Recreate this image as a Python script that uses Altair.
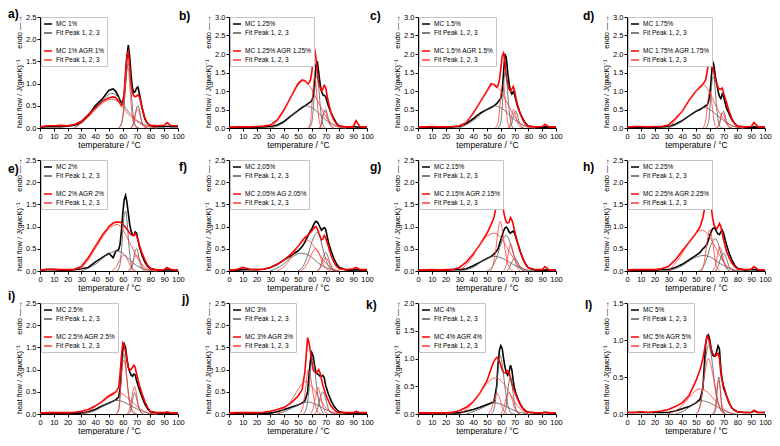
import altair as alt
import pandas as pd

# ---------------- data ----------------
T = [0, 5, 10, 15, 20, 25, 30, 35, 40, 45,
     50, 53, 55, 57, 58, 59, 60, 61, 62, 63,
     64, 65, 66, 67, 68, 69, 70, 71, 72, 74,
     76, 78, 80, 85, 90, 92, 95, 100]

MC_A = [0.02, 0.03, 0.03, 0.03, 0.04, 0.06, 0.12, 0.28, 0.50, 0.65,
        0.85, 0.88, 0.82, 0.70, 0.62, 0.57, 0.58, 0.75, 1.10, 1.60,
        1.87, 1.60, 1.20, 0.90, 0.80, 0.82, 0.90, 0.92, 0.78, 0.45,
        0.20, 0.10, 0.05, 0.03, 0.03, 0.04, 0.03, 0.03]
AGR_A = [0.02, 0.05, 0.05, 0.06, 0.05, 0.08, 0.15, 0.30, 0.45, 0.60,
         0.68, 0.70, 0.68, 0.60, 0.55, 0.50, 0.55, 0.80, 1.30, 1.65,
         1.72, 1.40, 1.00, 0.80, 0.72, 0.70, 0.72, 0.75, 0.70, 0.45,
         0.22, 0.10, 0.06, 0.05, 0.06, 0.12, 0.05, 0.05]
MC_B = [0.02, 0.02, 0.02, 0.02, 0.02, 0.03, 0.04, 0.08, 0.18, 0.33,
        0.47, 0.55, 0.60, 0.65, 0.68, 0.70, 0.74, 0.85, 1.20, 1.70,
        1.80, 1.50, 1.20, 1.00, 0.90, 0.88, 0.85, 0.72, 0.60, 0.40,
        0.25, 0.12, 0.05, 0.02, 0.04, 0.03, 0.02, 0.02]
AGR_B = [0.02, 0.03, 0.03, 0.03, 0.04, 0.05, 0.08, 0.22, 0.50, 0.85,
         1.20, 1.30, 1.28, 1.20, 1.22, 1.30, 1.50, 1.90, 2.15, 1.90,
         1.50, 1.20, 1.10, 1.00, 1.05, 1.15, 1.10, 0.90, 0.70, 0.40,
         0.22, 0.10, 0.05, 0.03, 0.03, 0.20, 0.03, 0.03]
MC_C = [0.02, 0.02, 0.02, 0.02, 0.02, 0.03, 0.04, 0.12, 0.25, 0.40,
        0.50, 0.55, 0.60, 0.66, 0.70, 0.75, 0.80, 1.00, 1.50, 2.00,
        1.90, 1.50, 1.20, 1.00, 0.92, 0.98, 0.90, 0.75, 0.60, 0.40,
        0.25, 0.12, 0.05, 0.02, 0.02, 0.03, 0.02, 0.02]
AGR_C = [0.02, 0.03, 0.04, 0.03, 0.03, 0.04, 0.06, 0.15, 0.40, 0.70,
         1.00, 1.20, 1.18, 1.10, 1.15, 1.30, 1.60, 1.95, 2.03, 1.80,
         1.40, 1.20, 1.05, 1.00, 1.05, 1.12, 1.00, 0.80, 0.65, 0.40,
         0.22, 0.10, 0.05, 0.03, 0.04, 0.10, 0.03, 0.03]
MC_D = [0.02, 0.02, 0.02, 0.02, 0.02, 0.03, 0.04, 0.10, 0.20, 0.33,
        0.45, 0.50, 0.55, 0.60, 0.62, 0.70, 0.90, 1.30, 1.80, 1.70,
        1.40, 1.20, 1.00, 0.85, 0.80, 0.92, 0.85, 0.70, 0.55, 0.38,
        0.22, 0.12, 0.05, 0.02, 0.02, 0.03, 0.02, 0.02]
AGR_D = [0.02, 0.04, 0.04, 0.03, 0.04, 0.04, 0.08, 0.25, 0.45, 0.75,
         1.00, 1.10, 1.18, 1.30, 1.50, 1.75, 2.00, 1.90, 1.70, 1.50,
         1.30, 1.20, 1.10, 1.05, 1.05, 1.08, 0.95, 0.82, 0.70, 0.45,
         0.25, 0.12, 0.05, 0.03, 0.04, 0.15, 0.03, 0.03]
MC_E = [0.02, 0.03, 0.03, 0.02, 0.02, 0.03, 0.05, 0.08, 0.20, 0.30,
        0.40, 0.30, 0.45, 0.48, 0.60, 0.90, 1.30, 1.60, 1.70, 1.55,
        1.30, 1.05, 0.90, 0.82, 0.80, 0.88, 0.85, 0.70, 0.55, 0.35,
        0.20, 0.10, 0.05, 0.02, 0.02, 0.03, 0.02, 0.02]
AGR_E = [0.02, 0.04, 0.04, 0.03, 0.03, 0.04, 0.10, 0.30, 0.55, 0.80,
         1.00, 1.08, 1.10, 1.10, 1.10, 1.08, 1.05, 1.02, 0.98, 0.94,
         0.90, 0.85, 0.82, 0.80, 0.82, 0.85, 0.80, 0.70, 0.58, 0.40,
         0.25, 0.13, 0.06, 0.02, 0.03, 0.08, 0.03, 0.02]
MC_F = [0.02, 0.02, 0.03, 0.03, 0.03, 0.04, 0.08, 0.15, 0.25, 0.35,
        0.45, 0.55, 0.65, 0.78, 0.85, 0.90, 0.95, 1.02, 1.08, 1.12,
        1.10, 1.05, 0.98, 0.92, 0.95, 0.98, 0.95, 0.80, 0.65, 0.45,
        0.28, 0.15, 0.08, 0.02, 0.02, 0.03, 0.02, 0.02]
AGR_F = [0.02, 0.03, 0.08, 0.04, 0.03, 0.04, 0.08, 0.15, 0.25, 0.38,
         0.55, 0.68, 0.75, 0.80, 0.83, 0.87, 0.90, 0.95, 0.98, 1.00,
         0.95, 0.86, 0.78, 0.70, 0.72, 0.80, 0.75, 0.65, 0.55, 0.35,
         0.20, 0.10, 0.05, 0.03, 0.05, 0.08, 0.03, 0.03]
MC_G = [0.02, 0.02, 0.02, 0.02, 0.02, 0.03, 0.03, 0.05, 0.12, 0.20,
        0.28, 0.33, 0.38, 0.45, 0.50, 0.60, 0.70, 0.80, 0.90, 0.97,
        0.99, 0.95, 0.88, 0.85, 0.88, 0.90, 0.85, 0.75, 0.65, 0.45,
        0.28, 0.15, 0.07, 0.02, 0.02, 0.02, 0.02, 0.02]
AGR_G = [0.02, 0.02, 0.03, 0.02, 0.03, 0.03, 0.08, 0.20, 0.38, 0.60,
         0.85, 1.05, 1.20, 1.50, 1.75, 1.90, 1.85, 1.60, 1.35, 1.20,
         1.10, 1.08, 1.10, 1.20, 1.15, 1.05, 0.90, 0.78, 0.65, 0.45,
         0.28, 0.15, 0.07, 0.03, 0.03, 0.10, 0.02, 0.02]
MC_H = [0.02, 0.02, 0.02, 0.02, 0.02, 0.03, 0.03, 0.08, 0.15, 0.25,
        0.35, 0.42, 0.50, 0.56, 0.60, 0.70, 0.80, 0.88, 0.95, 0.97,
        0.95, 0.88, 0.83, 0.82, 0.88, 0.92, 0.85, 0.72, 0.60, 0.40,
        0.25, 0.13, 0.06, 0.02, 0.03, 0.03, 0.02, 0.02]
AGR_H = [0.02, 0.03, 0.03, 0.03, 0.03, 0.05, 0.10, 0.25, 0.45, 0.65,
         0.85, 1.00, 1.20, 1.55, 1.72, 1.78, 1.70, 1.45, 1.20, 1.05,
         0.98, 0.95, 1.00, 1.07, 1.00, 0.85, 0.70, 0.58, 0.45, 0.30,
         0.18, 0.10, 0.05, 0.03, 0.04, 0.10, 0.03, 0.02]
MC_I = [0.02, 0.02, 0.02, 0.02, 0.02, 0.02, 0.02, 0.05, 0.10, 0.18,
        0.25, 0.29, 0.32, 0.38, 0.55, 1.00, 1.45, 1.58, 1.50, 1.25,
        1.05, 0.95, 0.88, 0.85, 0.90, 0.88, 0.75, 0.65, 0.55, 0.38,
        0.22, 0.12, 0.05, 0.02, 0.02, 0.02, 0.02, 0.02]
AGR_I = [0.02, 0.03, 0.03, 0.03, 0.03, 0.04, 0.06, 0.10, 0.18, 0.28,
         0.40, 0.45, 0.50, 0.60, 0.90, 1.30, 1.60, 1.55, 1.40, 1.20,
         1.05, 1.00, 1.00, 1.05, 1.10, 1.05, 0.90, 0.78, 0.65, 0.45,
         0.28, 0.15, 0.06, 0.03, 0.03, 0.05, 0.02, 0.02]
MC_J = [0.02, 0.02, 0.02, 0.02, 0.02, 0.02, 0.02, 0.05, 0.10, 0.15,
        0.20, 0.25, 0.30, 0.50, 0.90, 1.20, 1.38, 1.30, 1.10, 0.95,
        0.90, 0.88, 0.85, 0.85, 0.87, 0.82, 0.65, 0.55, 0.45, 0.30,
        0.18, 0.10, 0.05, 0.02, 0.02, 0.02, 0.02, 0.02]
AGR_J = [0.02, 0.03, 0.03, 0.03, 0.03, 0.04, 0.06, 0.10, 0.15, 0.25,
         0.40, 0.55, 0.95, 1.72, 1.60, 1.40, 1.20, 1.00, 0.95, 0.92,
         0.95, 1.00, 0.92, 0.78, 0.65, 0.55, 0.45, 0.37, 0.30, 0.18,
         0.10, 0.05, 0.03, 0.03, 0.03, 0.06, 0.03, 0.03]
MC_K = [0.02, 0.02, 0.02, 0.02, 0.02, 0.02, 0.02, 0.05, 0.08, 0.12,
        0.17, 0.20, 0.22, 0.50, 0.90, 1.15, 1.23, 1.18, 1.00, 0.85,
        0.75, 0.70, 0.75, 0.88, 0.80, 0.60, 0.45, 0.37, 0.30, 0.18,
        0.10, 0.05, 0.03, 0.02, 0.02, 0.03, 0.02, 0.02]
AGR_K = [0.02, 0.02, 0.02, 0.02, 0.02, 0.03, 0.06, 0.12, 0.22, 0.38,
         0.60, 0.82, 0.95, 1.02, 1.00, 0.95, 0.88, 0.80, 0.75, 0.74,
         0.76, 0.78, 0.75, 0.65, 0.55, 0.47, 0.40, 0.34, 0.28, 0.18,
         0.10, 0.06, 0.03, 0.02, 0.02, 0.03, 0.02, 0.02]
MC_L = [0.02, 0.02, 0.02, 0.02, 0.02, 0.02, 0.02, 0.04, 0.07, 0.10,
        0.15, 0.20, 0.35, 0.95, 1.05, 1.07, 1.00, 0.88, 0.80, 0.78,
        0.78, 0.85, 0.92, 0.88, 0.60, 0.45, 0.35, 0.30, 0.25, 0.15,
        0.08, 0.05, 0.03, 0.02, 0.02, 0.04, 0.02, 0.02]
AGR_L = [0.02, 0.02, 0.03, 0.02, 0.03, 0.04, 0.06, 0.10, 0.15, 0.25,
         0.45, 0.60, 0.75, 0.95, 1.05, 1.03, 0.95, 0.88, 0.82, 0.80,
         0.78, 0.80, 0.82, 0.75, 0.55, 0.45, 0.38, 0.32, 0.25, 0.15,
         0.08, 0.05, 0.03, 0.02, 0.02, 0.05, 0.02, 0.02]

# fitted peaks 1, 2, 3: (temperature, heat flow) points
FIT_MC_A = [[(25, 0), (35, 0.25), (45, 0.6), (52, 0.78), (58, 0.65), (62, 0.45), (66, 0.3), (70, 0.18), (75, 0.08), (80, 0.03), (85, 0)],
            [(57, 0), (59, 0.1), (61, 0.5), (62, 0.95), (63, 1.3), (64, 1.45), (65, 1.25), (66, 0.85), (67, 0.45), (68, 0.18), (70, 0.03), (72, 0)],
            [(66, 0), (68, 0.12), (69, 0.3), (70, 0.45), (71, 0.5), (72, 0.42), (73, 0.25), (74, 0.12), (76, 0.02), (78, 0)]]
FIT_AGR_A = [[(25, 0), (35, 0.25), (45, 0.55), (52, 0.65), (58, 0.55), (62, 0.38), (66, 0.25), (70, 0.15), (75, 0.06), (80, 0.02), (85, 0)],
             [(57, 0), (59, 0.1), (61, 0.6), (62, 1.05), (63, 1.35), (64, 1.35), (65, 1.0), (66, 0.55), (67, 0.25), (69, 0.03), (71, 0)],
             [(66, 0), (68, 0.15), (69, 0.3), (70, 0.4), (71, 0.42), (72, 0.35), (73, 0.22), (74, 0.1), (76, 0.02), (78, 0)]]
FIT_MC_B = [[(30, 0), (40, 0.15), (48, 0.42), (55, 0.6), (60, 0.55), (65, 0.4), (70, 0.22), (75, 0.1), (80, 0.03), (85, 0)],
            [(58, 0), (60, 0.15), (61, 0.5), (62, 1.0), (63, 1.35), (64, 1.42), (65, 1.1), (66, 0.65), (67, 0.3), (68, 0.1), (70, 0)],
            [(66, 0), (67, 0.1), (68, 0.3), (69, 0.45), (70, 0.5), (71, 0.4), (72, 0.25), (74, 0.06), (76, 0)]]
FIT_AGR_B = [[(30, 0), (38, 0.35), (45, 0.85), (50, 1.15), (54, 1.28), (58, 1.15), (62, 0.9), (66, 0.6), (70, 0.32), (75, 0.1), (80, 0.02), (85, 0)],
             [(57, 0), (59, 0.15), (60, 0.6), (61, 1.1), (62, 1.4), (63, 1.2), (64, 0.7), (65, 0.3), (66, 0.1), (68, 0)],
             [(65, 0), (67, 0.15), (68, 0.35), (69, 0.45), (70, 0.45), (71, 0.32), (72, 0.18), (74, 0.04), (76, 0)]]
FIT_MC_C = [[(30, 0), (40, 0.2), (48, 0.45), (55, 0.6), (60, 0.55), (65, 0.4), (70, 0.22), (75, 0.1), (80, 0.03), (85, 0)],
            [(58, 0), (60, 0.15), (61, 0.55), (62, 1.1), (63, 1.5), (64, 1.4), (65, 0.95), (66, 0.5), (67, 0.2), (69, 0)],
            [(66, 0), (68, 0.12), (69, 0.3), (70, 0.42), (71, 0.45), (72, 0.35), (73, 0.2), (75, 0.04), (77, 0)]]
FIT_AGR_C = [[(30, 0), (38, 0.3), (45, 0.7), (50, 1.0), (55, 1.18), (60, 1.0), (65, 0.65), (70, 0.3), (75, 0.1), (80, 0.02), (85, 0)],
             [(56, 0), (58, 0.15), (59, 0.45), (60, 0.9), (61, 1.15), (62, 1.18), (63, 0.85), (64, 0.45), (65, 0.15), (67, 0)],
             [(65, 0), (67, 0.15), (68, 0.35), (69, 0.5), (70, 0.45), (71, 0.3), (72, 0.15), (74, 0.03), (76, 0)]]
FIT_MC_D = [[(30, 0), (40, 0.18), (48, 0.42), (56, 0.55), (60, 0.5), (65, 0.35), (70, 0.2), (75, 0.08), (80, 0.02), (85, 0)],
            [(57, 0), (59, 0.15), (60, 0.5), (61, 1.0), (62, 1.35), (63, 1.38), (64, 1.0), (65, 0.55), (66, 0.22), (67, 0.07), (69, 0)],
            [(65, 0), (67, 0.1), (68, 0.28), (69, 0.42), (70, 0.45), (71, 0.35), (72, 0.2), (74, 0.04), (76, 0)]]
FIT_AGR_D = [[(30, 0), (38, 0.35), (45, 0.75), (50, 1.0), (55, 1.18), (60, 0.95), (65, 0.55), (70, 0.25), (75, 0.08), (80, 0.02), (85, 0)],
             [(55, 0), (57, 0.2), (58, 0.5), (59, 0.85), (60, 1.0), (61, 0.85), (62, 0.5), (63, 0.2), (64, 0.05), (66, 0)],
             [(65, 0), (67, 0.12), (68, 0.3), (69, 0.4), (70, 0.38), (71, 0.25), (72, 0.12), (74, 0.02), (76, 0)]]
FIT_MC_E = [[(30, 0), (40, 0.15), (48, 0.35), (56, 0.45), (60, 0.4), (65, 0.25), (70, 0.12), (75, 0.05), (80, 0.01), (85, 0)],
            [(56, 0), (58, 0.15), (59, 0.45), (60, 0.9), (61, 1.25), (62, 1.35), (63, 1.15), (64, 0.75), (65, 0.4), (66, 0.15), (68, 0)],
            [(65, 0), (67, 0.12), (68, 0.3), (69, 0.45), (70, 0.5), (71, 0.42), (72, 0.25), (74, 0.05), (76, 0)]]
FIT_AGR_E = [[(28, 0), (35, 0.25), (42, 0.6), (50, 0.95), (56, 1.05), (60, 0.93), (64, 0.7), (68, 0.45), (72, 0.22), (76, 0.08), (80, 0.02), (85, 0)],
             [(52, 0), (55, 0.08), (57, 0.2), (59, 0.32), (61, 0.35), (63, 0.28), (65, 0.15), (67, 0.05), (70, 0)],
             [(64, 0), (66, 0.1), (68, 0.28), (70, 0.35), (72, 0.28), (74, 0.12), (76, 0.03), (78, 0)]]
FIT_MC_F = [[(30, 0), (38, 0.12), (45, 0.3), (52, 0.4), (58, 0.35), (62, 0.25), (66, 0.15), (70, 0.08), (75, 0.03), (80, 0)],
            [(50, 0), (54, 0.12), (57, 0.35), (60, 0.65), (62, 0.8), (64, 0.87), (66, 0.75), (68, 0.5), (70, 0.28), (72, 0.12), (75, 0.02), (77, 0)],
            [(64, 0), (66, 0.08), (68, 0.28), (70, 0.42), (72, 0.3), (74, 0.12), (76, 0.03), (78, 0)]]
FIT_AGR_F = [[(35, 0), (40, 0.1), (45, 0.3), (50, 0.55), (56, 0.7), (60, 0.62), (65, 0.4), (70, 0.18), (75, 0.05), (80, 0)],
             [(52, 0), (55, 0.08), (58, 0.25), (61, 0.45), (63, 0.5), (65, 0.42), (67, 0.25), (69, 0.1), (72, 0.02), (74, 0)],
             [(64, 0), (66, 0.06), (68, 0.2), (70, 0.3), (72, 0.22), (74, 0.08), (76, 0.02), (78, 0)]]
FIT_MC_G = [[(30, 0), (40, 0.08), (48, 0.25), (55, 0.33), (60, 0.3), (65, 0.22), (70, 0.13), (75, 0.06), (80, 0.02), (85, 0)],
            [(50, 0), (54, 0.1), (57, 0.3), (60, 0.6), (62, 0.74), (64, 0.8), (66, 0.7), (68, 0.5), (70, 0.3), (72, 0.14), (75, 0.03), (77, 0)],
            [(64, 0), (66, 0.06), (68, 0.2), (70, 0.3), (72, 0.22), (74, 0.08), (76, 0.02), (78, 0)]]
FIT_AGR_G = [[(30, 0), (38, 0.25), (45, 0.6), (50, 0.78), (55, 0.85), (60, 0.75), (65, 0.5), (70, 0.25), (75, 0.08), (80, 0)],
             [(52, 0), (54, 0.1), (56, 0.4), (58, 0.9), (59.5, 1.12), (61, 0.95), (63, 0.5), (65, 0.18), (67, 0.04), (69, 0)],
             [(62, 0), (64, 0.15), (66, 0.5), (67, 0.62), (68, 0.55), (70, 0.28), (72, 0.08), (74, 0)]]
FIT_MC_H = [[(30, 0), (40, 0.12), (48, 0.28), (55, 0.35), (60, 0.32), (65, 0.22), (70, 0.12), (75, 0.05), (80, 0.01), (85, 0)],
            [(52, 0), (55, 0.08), (58, 0.3), (61, 0.6), (64, 0.73), (66, 0.62), (68, 0.4), (70, 0.2), (72, 0.08), (75, 0)],
            [(64, 0), (66, 0.1), (68, 0.3), (70, 0.4), (72, 0.28), (74, 0.1), (76, 0.02), (78, 0)]]
FIT_AGR_H = [[(30, 0), (38, 0.3), (45, 0.65), (50, 0.85), (54, 0.92), (58, 0.85), (62, 0.65), (66, 0.42), (70, 0.2), (75, 0.06), (80, 0)],
             [(54, 0), (56, 0.2), (58, 0.65), (60, 0.93), (62, 0.65), (64, 0.22), (66, 0.04), (68, 0)],
             [(62, 0), (64, 0.12), (66, 0.42), (67, 0.55), (68, 0.5), (70, 0.25), (72, 0.07), (74, 0)]]
FIT_MC_I = [[(30, 0), (40, 0.08), (48, 0.22), (55, 0.31), (60, 0.28), (65, 0.2), (70, 0.12), (75, 0.05), (80, 0.01), (85, 0)],
            [(55, 0), (57, 0.1), (58, 0.4), (59, 0.9), (60.5, 1.35), (62, 1.15), (63, 0.8), (64, 0.5), (66, 0.15), (68, 0.03), (70, 0)],
            [(64, 0), (66, 0.1), (67, 0.3), (68.5, 0.48), (70, 0.35), (71, 0.2), (73, 0.05), (75, 0)]]
FIT_AGR_I = [[(30, 0), (38, 0.12), (45, 0.3), (50, 0.43), (55, 0.5), (60, 0.45), (65, 0.32), (70, 0.18), (75, 0.07), (80, 0.01), (85, 0)],
             [(55, 0), (57, 0.1), (58, 0.38), (59, 0.85), (60.5, 1.22), (62, 1.05), (63, 0.75), (64, 0.45), (66, 0.12), (68, 0.02), (70, 0)],
             [(63, 0), (65, 0.12), (67, 0.45), (68.5, 0.62), (70, 0.45), (71, 0.25), (73, 0.06), (75, 0)]]
FIT_MC_J = [[(35, 0), (42, 0.08), (50, 0.2), (57, 0.27), (62, 0.23), (67, 0.15), (72, 0.07), (77, 0.02), (82, 0)],
            [(54, 0), (56, 0.12), (58, 0.55), (59, 0.95), (60.5, 1.25), (62, 1.05), (63, 0.75), (65, 0.3), (67, 0.08), (69, 0)],
            [(62, 0), (64, 0.1), (66, 0.35), (68, 0.5), (70, 0.35), (72, 0.12), (74, 0.02), (76, 0)]]
FIT_AGR_J = [[(35, 0), (40, 0.12), (45, 0.3), (50, 0.55), (55, 0.73), (60, 0.62), (65, 0.38), (70, 0.15), (74, 0.05), (78, 0)],
             [(51, 0), (53, 0.1), (55, 0.45), (57.5, 1.0), (59, 0.85), (61, 0.45), (63, 0.15), (65, 0.02), (67, 0)],
             [(59, 0), (61, 0.12), (63, 0.42), (64.5, 0.6), (66, 0.45), (68, 0.18), (70, 0.04), (72, 0)]]
FIT_MC_K = [[(35, 0), (42, 0.06), (50, 0.15), (55, 0.2), (60, 0.18), (65, 0.12), (70, 0.06), (75, 0.02), (80, 0)],
            [(53, 0), (55, 0.08), (57, 0.45), (58, 0.8), (59.5, 1.05), (61, 0.9), (62, 0.7), (64, 0.3), (66, 0.08), (68, 0.01), (70, 0)],
            [(62, 0), (64, 0.15), (65, 0.4), (67, 0.66), (68.5, 0.45), (70, 0.18), (72, 0.04), (74, 0)]]
FIT_AGR_K = [[(30, 0), (38, 0.15), (45, 0.38), (50, 0.55), (56, 0.65), (62, 0.55), (67, 0.35), (72, 0.15), (76, 0.05), (80, 0)],
             [(51, 0), (53, 0.08), (55, 0.25), (57, 0.38), (59, 0.3), (61, 0.12), (63, 0.03), (65, 0)],
             [(60, 0), (62, 0.1), (64, 0.3), (66, 0.38), (68, 0.28), (70, 0.1), (72, 0.02), (74, 0)]]
FIT_MC_L = [[(35, 0), (42, 0.05), (48, 0.13), (54, 0.18), (60, 0.15), (65, 0.1), (70, 0.05), (75, 0.01), (80, 0)],
            [(50, 0), (53, 0.1), (55, 0.35), (57, 0.75), (59, 0.93), (61, 0.8), (63, 0.5), (65, 0.25), (67, 0.1), (70, 0.02), (72, 0)],
            [(63, 0), (64.5, 0.1), (65.5, 0.35), (66.5, 0.5), (67.5, 0.35), (68.5, 0.12), (70, 0.02), (71, 0)]]
FIT_AGR_L = [[(30, 0), (38, 0.08), (45, 0.22), (50, 0.32), (53, 0.34), (58, 0.3), (63, 0.2), (68, 0.1), (73, 0.03), (78, 0)],
             [(50, 0), (53, 0.12), (56, 0.5), (59, 0.75), (62, 0.55), (65, 0.22), (68, 0.05), (70, 0)],
             [(62, 0), (64, 0.1), (65.5, 0.38), (66.5, 0.45), (67.5, 0.35), (69, 0.1), (71, 0)]]

LETTERS = ["a)", "b)", "c)", "d)", "e)", "f)", "g)", "h)", "i)", "j)", "k)", "l)"]
Y_MAX = [2.5, 3.0, 3.0, 3.0, 2.5, 2.5, 2.5, 2.5, 2.5, 2.5, 2.0, 1.5]
MC_LABELS = ["MC 1%", "MC 1.25%", "MC 1.5%", "MC 1.75%", "MC 2%", "MC 2.05%",
             "MC 2.15%", "MC 2.25%", "MC 2.5%", "MC 3%", "MC 4%", "MC 5%"]
AGR_LABELS = ["MC 1% AGR 1%", "MC 1.25% AGR 1.25%", "MC 1.5% AGR 1.5%",
              "MC 1.75% AGR 1.75%", "MC 2% AGR 2%", "MC 2.05% AG 2.05%",
              "MC 2.15% AGR 2.15%", "MC 2.25% AGR 2.25%", "MC 2.5% AGR 2.5%",
              "MC 3% AGR 3%", "MC 4% AGR 4%", "MC 5% AGR 5%"]
MC_SERIES = [MC_A, MC_B, MC_C, MC_D, MC_E, MC_F, MC_G, MC_H, MC_I, MC_J, MC_K, MC_L]
AGR_SERIES = [AGR_A, AGR_B, AGR_C, AGR_D, AGR_E, AGR_F, AGR_G, AGR_H, AGR_I, AGR_J, AGR_K, AGR_L]
FIT_MC = [FIT_MC_A, FIT_MC_B, FIT_MC_C, FIT_MC_D, FIT_MC_E, FIT_MC_F,
          FIT_MC_G, FIT_MC_H, FIT_MC_I, FIT_MC_J, FIT_MC_K, FIT_MC_L]
FIT_AGR = [FIT_AGR_A, FIT_AGR_B, FIT_AGR_C, FIT_AGR_D, FIT_AGR_E, FIT_AGR_F,
           FIT_AGR_G, FIT_AGR_H, FIT_AGR_I, FIT_AGR_J, FIT_AGR_K, FIT_AGR_L]

# ---------------- layout / style ----------------
FONT = "Liberation Sans"
KEYS = ["mc", "fit", "gap", "agr", "fitagr"]
COLORS = ["#000000", "#555555", "#ffffff", "#ff0000", "#ff3b3b"]
PW, PH = 138, 111
LETTER_POS = [(-32, -8), (-50, -6), (-48, -6), (-44, -6),
              (-32, 4), (-50, 2), (-48, 2), (-44, 2),
              (-32, -12), (-47, -9), (-52, -3), (-42, -3)]


def panel(i):
    col = i % 4
    width = PW + 20 if col == 2 else PW
    ymax = Y_MAX[i]
    rows = []
    for t, v in zip(T, MC_SERIES[i]):
        rows.append({"T": t, "v": v, "s": "mc", "g": "mc"})
    mc_df = pd.DataFrame(rows)
    rows = []
    for t, v in zip(T, AGR_SERIES[i]):
        rows.append({"T": t, "v": v, "s": "agr", "g": "agr"})
    agr_df = pd.DataFrame(rows)
    rows = []
    for k, pk in enumerate(FIT_MC[i]):
        for t, v in pk:
            rows.append({"T": t, "v": v, "s": "fit", "g": f"m{k}"})
    for k, pk in enumerate(FIT_AGR[i]):
        for t, v in pk:
            rows.append({"T": t, "v": v, "s": "fitagr", "g": f"a{k}"})
    fit_df = pd.DataFrame(rows)

    xs = dict(domain=[0, 100], nice=False, zero=False)
    if col == 2:
        xs["range"] = [0, PW]
    x = alt.X("T:Q", scale=alt.Scale(**xs),
              axis=alt.Axis(values=list(range(0, 101, 10)), title="temperature / °C",
                            labelFlush=False, labelOverlap=False, tickSize=3,
                            labelPadding=1, titlePadding=1, labelFontSize=7.5,
                            titleFontSize=8.5, titleFontWeight="normal"))
    yvals = [round(0.5 * k, 1) for k in range(int(ymax / 0.5) + 1)]
    y = alt.Y("v:Q", scale=alt.Scale(domain=[0, ymax], nice=False),
              axis=alt.Axis(values=yvals, format=".1f", title=None, labelFlush=False,
                            tickSize=3, labelPadding=1, labelFontSize=7.5))
    expr = ("datum.value == 'mc' ? '%s' : datum.value == 'agr' ? '%s' : "
            "datum.value == 'gap' ? '' : 'Fit Peak 1, 2, 3'") % (MC_LABELS[i], AGR_LABELS[i])
    color = alt.Color("s:N", scale=alt.Scale(domain=KEYS, range=COLORS),
                      legend=alt.Legend(orient="none", legendX=1, legendY=0, title=None,
                                        labelExpr=expr, symbolType="stroke", symbolSize=64,
                                        symbolStrokeWidth=1.5, rowPadding=0, padding=2,
                                        labelFontSize=6.5, labelOffset=3, labelLimit=200,
                                        strokeColor="#c4c4c4", fillColor="white",
                                        labelFont=FONT))
    l_mc = alt.Chart(mc_df).mark_line(strokeWidth=1.6).encode(x=x, y=y, color=color, detail="g:N")
    l_agr = alt.Chart(agr_df).mark_line(strokeWidth=1.6).encode(x=x, y=y, color=color, detail="g:N")
    l_fit = alt.Chart(fit_df).mark_line(strokeWidth=0.8, interpolate="monotone").encode(
        x=x, y=y, color=color, detail="g:N")
    lx, ly = LETTER_POS[i]
    letter = alt.Chart(pd.DataFrame({"t": [LETTERS[i]]})).mark_text(
        font=FONT, fontSize=12, fontWeight="bold", align="left", baseline="top", color="black"
    ).encode(x=alt.value(lx), y=alt.value(ly), text="t:N")
    ytitle = alt.Chart(pd.DataFrame({"t": ["heat flow / J(gᴍᴄK)⁻¹"]})).mark_text(
        font=FONT, fontSize=7.5, angle=270, align="left", baseline="middle", color="black"
    ).encode(x=alt.value(-20), y=alt.value(PH), text="t:N")
    endo = alt.Chart(pd.DataFrame({"t": ["endo —→"]})).mark_text(
        font=FONT, fontSize=7.5, angle=270, align="right", baseline="middle", color="black"
    ).encode(x=alt.value(-20), y=alt.value(-2), text="t:N")
    return alt.layer(l_mc, l_agr, l_fit, letter, ytitle, endo).properties(width=width, height=PH)


chart = alt.concat(*[panel(i) for i in range(12)], columns=4,
                   spacing={"row": 32, "column": 51}, bounds="flush"
                   ).resolve_scale(color="independent", x="independent", y="independent"
                   ).resolve_legend(color="independent").properties(padding=0
                   ).configure_view(strokeWidth=0
                   ).configure_axis(grid=False, domainColor="black", tickColor="black",
                                    labelColor="black", titleColor="black", labelFont=FONT,
                                    titleFont=FONT, titleFontWeight="normal")

chart.save("out.html", embed_options={"renderer": "svg", "actions": False})
